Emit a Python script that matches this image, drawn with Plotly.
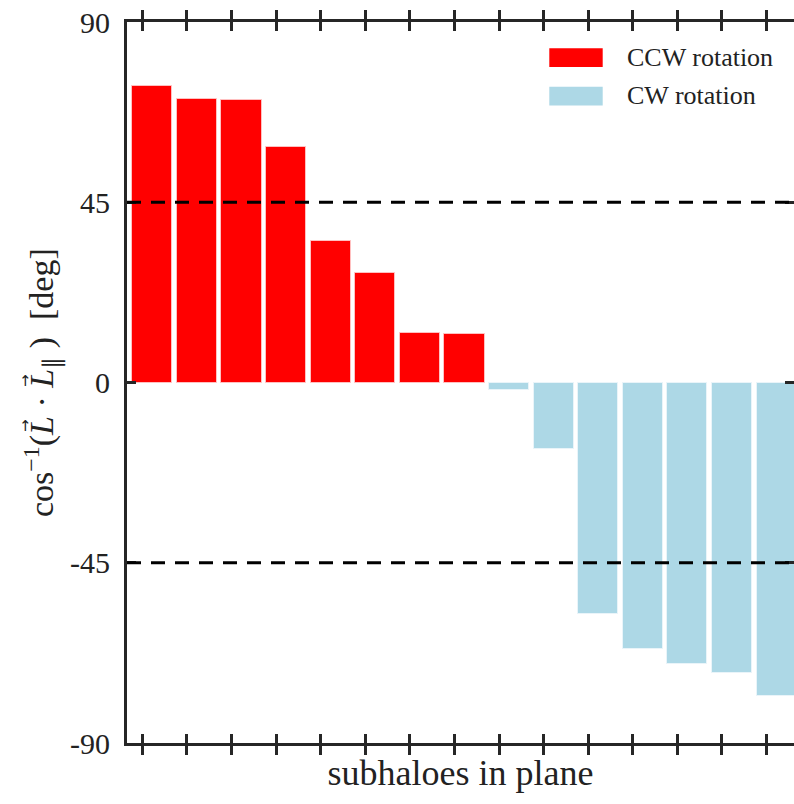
import numpy as np
import plotly.graph_objects as go

# Angle between each subhalo's angular momentum and the plane normal [deg]
ccw_angles = [74.1, 70.7, 70.6, 58.7, 35.4, 27.3, 12.4, 12.0]
cw_angles = [-1.9, -16.6, -57.8, -66.5, -70.3, -72.4, -78.3]
series_names = ["CCW rotation", "CW rotation"]
series_colors = ["#ff0000", "#add8e6"]
y_ticks = [-90, -45, 0, 45, 90]
y_ticklabels = ["-90", "-45", "0", "45", "90"]
ref_lines = [45, -45]

n_ccw = len(ccw_angles)
n_all = n_ccw + len(cw_angles)
pos = np.arange(n_all)
tick_pos = pos - 0.225

FONT = "Liberation Serif"
AX = "#262626"
W, H = 794, 804
ML, MR, MT, MB = 127, 0, 22, 61
PW, PH = W - ML - MR, H - MT - MB
NB = "\u00a0"


def px(x, y):
    """pixel position -> paper coordinates"""
    return (x - ML) / PW, 1 - (y - MT) / PH


fig = go.Figure()
fig.add_trace(go.Bar(
    x=pos[:n_ccw], y=ccw_angles, width=0.9, name=series_names[0],
    marker=dict(color=series_colors[0], line=dict(color="rgba(255,200,200,0.9)", width=1)),
))
fig.add_trace(go.Bar(
    x=pos[n_ccw:], y=cw_angles, width=0.9, name=series_names[1],
    marker=dict(color=series_colors[1], line=dict(color="rgba(235,245,250,0.9)", width=1)),
))
# empty trace that carries the right-hand tick axis
fig.add_trace(go.Scatter(x=[], y=[], yaxis="y2"))

for v in ref_lines:
    fig.add_shape(type="line", xref="paper", x0=0, x1=1, yref="y", y0=v, y1=v,
                  line=dict(color="black", width=3, dash="14px,10px"), layer="above")

# legend drawn as swatches + labels
for i, (name, col) in enumerate(zip(series_names, series_colors)):
    y_top = 48.3 + i * 38.4
    x0, y0 = px(549.3, y_top)
    x1, y1 = px(602.7, y_top + 18.7)
    fig.add_shape(type="rect", xref="paper", yref="paper", x0=x0, x1=x1, y0=y0, y1=y1,
                  fillcolor=col, line=dict(width=0))
    tx, ty = px(625, y_top + 9.3)
    fig.add_annotation(xref="paper", yref="paper", x=tx, y=ty,
                       text=name, showarrow=False, xanchor="left", yanchor="middle",
                       font=dict(family=FONT, size=26, color="#222"))

# y-axis label, written as an annotation so the vector arrows can sit over each L
lx, ly = px(42, 383)
fig.add_annotation(
    xref="paper", yref="paper", x=lx, y=ly, textangle=-90,
    text=f"cos<sup>−1</sup>(<i>L</i>{NB}·{NB}<i>L</i><sub>∥</sub>{NB}){NB}{NB}[deg]",
    showarrow=False, xanchor="center", yanchor="middle",
    font=dict(family=FONT, size=34, color="#222"))
for ay in (426, 381):
    ax_, ay_ = px(25, ay)
    fig.add_annotation(xref="paper", yref="paper", x=ax_, y=ay_, textangle=-90,
                       text="→", showarrow=False, xanchor="center", yanchor="middle",
                       font=dict(family="DejaVu Sans", size=15, color="#222"))

fig.update_layout(
    width=W, height=H,
    margin=dict(l=ML, r=MR, t=MT, b=MB),
    paper_bgcolor="white", plot_bgcolor="white",
    bargap=0, showlegend=False,
    font=dict(family=FONT, color="#222"),
    xaxis=dict(
        range=[-0.567, n_all - 1 + 0.39],
        tickvals=tick_pos, showticklabels=False,
        ticks="inside", ticklen=9, tickwidth=3, tickcolor=AX,
        showline=True, linecolor=AX, linewidth=3, mirror="allticks",
        showgrid=False, zeroline=False,
        title=dict(text="subhaloes in plane", font=dict(family=FONT, size=36, color="#222"),
                   standoff=15),
    ),
    yaxis=dict(
        range=[-90, 90], tickvals=y_ticks, ticktext=y_ticklabels,
        ticks="inside", ticklen=9, tickwidth=3, tickcolor=AX,
        tickfont=dict(family=FONT, size=30, color="#222"),
        ticklabelstandoff=8,
        showline=True, linecolor=AX, linewidth=3, mirror=False,
        showgrid=False, zeroline=False,
    ),
    yaxis2=dict(
        overlaying="y", side="right", anchor="x", range=[-90, 90], tickvals=y_ticks,
        showticklabels=False, ticks="inside", ticklen=9, tickwidth=3, tickcolor=AX,
        showline=False, showgrid=False, zeroline=False,
    ),
)

fig.write_html("out.html")
